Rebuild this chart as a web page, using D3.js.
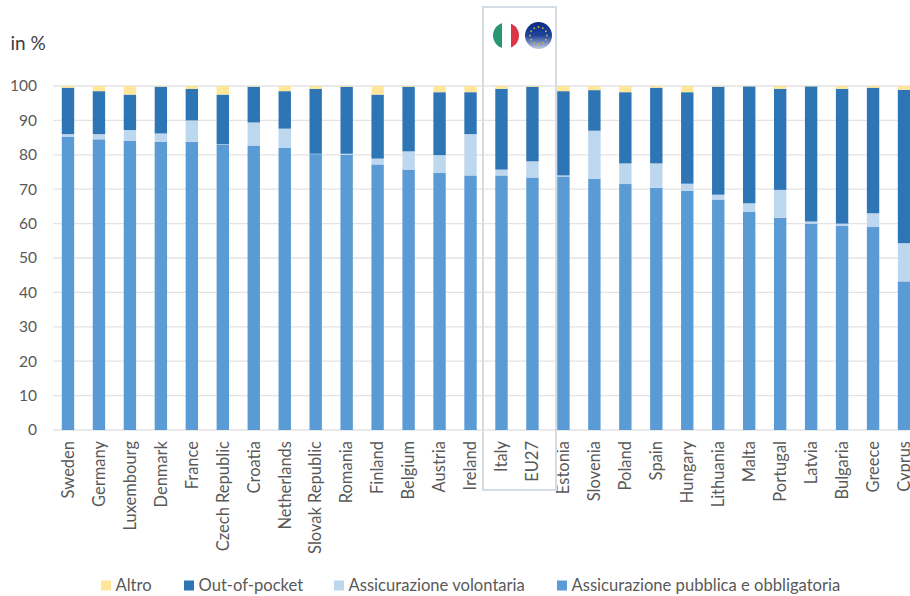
<!DOCTYPE html>
<html lang="en">
<head>
    <meta charset="UTF-8">
    <title>Spesa sanitaria per fonte di finanziamento</title>
    <script src="https://d3js.org/d3.v7.min.js"></script>
    <style>
        body { margin: 0; background: #fff; }
        svg { display: block; }
        text { font-family: Lato, "Open Sans", sans-serif; fill: #595959; }
    </style>
</head>
<body>
    <svg id="chart" width="910" height="596"></svg>
    <script>
        const countries = ["Sweden", "Germany", "Luxembourg", "Denmark", "France", "Czech Republic", "Croatia",
            "Netherlands", "Slovak Republic", "Romania", "Finland", "Belgium", "Austria", "Ireland", "Italy", "EU27",
            "Estonia", "Slovenia", "Poland", "Spain", "Hungary", "Lithuania", "Malta", "Portugal", "Latvia",
            "Bulgaria", "Greece", "Cyprus"];

        const pubblica = [85.3, 84.5, 84.1, 83.8, 83.8, 83.0, 82.7, 82.0, 80.2, 80.0, 77.2, 75.7, 74.7, 74.0,
            74.0, 73.4, 73.7, 73.0, 71.5, 70.4, 69.5, 67.0, 63.5, 61.7, 60.0, 59.3, 59.0, 43.2];
        const volontaria = [0.7, 1.5, 3.1, 2.4, 6.2, 0.1, 6.7, 5.6, 0.1, 0.3, 1.7, 5.3, 5.2, 12.0,
            1.7, 4.7, 0.3, 14.0, 6.0, 7.1, 2.1, 1.4, 2.4, 8.1, 0.6, 0.7, 4.0, 11.1];
        const outOfPocket = [13.5, 12.5, 10.3, 13.6, 9.2, 14.4, 10.4, 10.9, 18.9, 19.5, 18.6, 18.8, 18.3, 12.2,
            23.5, 21.7, 24.5, 11.8, 20.7, 22.0, 26.6, 31.4, 34.0, 29.4, 39.3, 39.2, 36.5, 44.6];
        const altro = [0.5, 1.5, 2.5, 0.2, 0.8, 2.5, 0.2, 1.5, 0.8, 0.2, 2.5, 0.2, 1.8, 1.8,
            0.8, 0.2, 1.5, 1.2, 1.8, 0.5, 1.8, 0.2, 0.1, 0.8, 0.1, 0.8, 0.5, 1.1];

        const yTicks = [0, 10, 20, 30, 40, 50, 60, 70, 80, 90, 100];
        const seriesKeys = ["pubblica", "volontaria", "outOfPocket", "altro"];
        const seriesColors = { pubblica: "#5b9bd5", volontaria: "#bdd7ee", outOfPocket: "#2e75b6", altro: "#ffe699" };

        const legendLabels = ["Altro", "Out-of-pocket", "Assicurazione volontaria", "Assicurazione pubblica e obbligatoria"];
        const legendKeys = ["altro", "outOfPocket", "volontaria", "pubblica"];

        const rows = countries.map((c, i) => ({
            country: c,
            pubblica: pubblica[i],
            volontaria: volontaria[i],
            outOfPocket: outOfPocket[i],
            altro: altro[i]
        }));

        const svg = d3.select("#chart");

        const x = d3.scaleBand().domain(countries).range([52.5, 919.5]).paddingInner(0.6).paddingOuter(0.3);
        const y = d3.scaleLinear().domain([0, 100]).range([430, 86]);

        // gridlines
        svg.append("g").selectAll("line")
            .data(yTicks)
            .enter()
            .append("line")
            .attr("x1", 53)
            .attr("x2", 910)
            .attr("y1", d => y(d))
            .attr("y2", d => y(d))
            .attr("stroke", "#e3e3e3")
            .attr("stroke-width", 1.3);

        // stacked bars
        const stack = d3.stack().keys(seriesKeys)(rows);
        svg.append("g").selectAll("g")
            .data(stack)
            .enter()
            .append("g")
            .attr("fill", d => seriesColors[d.key])
            .selectAll("rect")
            .data(d => d)
            .enter()
            .append("rect")
            .attr("x", d => x(d.data.country))
            .attr("width", x.bandwidth())
            .attr("y", d => y(d[1]))
            .attr("height", d => y(d[0]) - y(d[1]));

        // y axis
        const yAxis = d3.axisLeft(y).tickValues(yTicks).tickSize(0).tickPadding(0);
        const yG = svg.append("g").attr("transform", "translate(37,0)").call(yAxis);
        yG.select(".domain").remove();
        yG.selectAll("text").attr("font-size", 15.5).attr("font-family", "Lato").attr("x", 0);

        // x axis, rotated labels
        const xAxis = d3.axisBottom(x).tickSize(0);
        const xG = svg.append("g").attr("transform", "translate(0,430)").call(xAxis);
        xG.select(".domain").remove();
        xG.selectAll("text")
            .attr("font-size", 16.5)
            .attr("font-family", "Lato")
            .attr("text-anchor", "end")
            .attr("dy", "0.35em")
            .attr("y", 0)
            .attr("x", 0)
            .attr("transform", "rotate(-90) translate(-11,0)");

        svg.append("text").attr("x", 10.5).attr("y", 50).attr("font-size", 19).style("fill", "#404040").text("in %");

        // highlight box round Italy and EU27
        svg.append("rect")
            .attr("x", 483)
            .attr("y", 7)
            .attr("width", 73)
            .attr("height", 483)
            .attr("fill", "none")
            .attr("stroke", "#d6dce4")
            .attr("stroke-width", 2);

        // flags
        const defs = svg.append("defs");
        defs.append("clipPath").attr("id", "itClip")
            .append("circle").attr("cx", 506).attr("cy", 35.5).attr("r", 13);

        const itFlag = svg.append("g").attr("clip-path", "url(#itClip)");
        itFlag.selectAll("rect")
            .data(["#2b9474", "#ffffff", "#dc3545"])
            .enter()
            .append("rect")
            .attr("x", (d, i) => 493 + i * 9)
            .attr("y", 22)
            .attr("width", 9)
            .attr("height", 27)
            .attr("fill", d => d);

        const euGrad = defs.append("linearGradient").attr("id", "euGrad")
            .attr("x1", 0).attr("y1", 0).attr("x2", 0).attr("y2", 1);
        euGrad.append("stop").attr("offset", "0%").attr("stop-color", "#0b2a86");
        euGrad.append("stop").attr("offset", "50%").attr("stop-color", "#1f439a");
        euGrad.append("stop").attr("offset", "100%").attr("stop-color", "#c5cde2");

        svg.append("circle")
            .attr("cx", 538.5).attr("cy", 35.5).attr("r", 13.5)
            .attr("fill", "url(#euGrad)");

        svg.append("g").selectAll("circle")
            .data(d3.range(12))
            .enter()
            .append("circle")
            .attr("cx", d => 538.5 + 8.5 * Math.cos(d * Math.PI / 6))
            .attr("cy", d => 35.5 + 8.5 * Math.sin(d * Math.PI / 6))
            .attr("r", 0.9)
            .attr("fill", "#c9b54a");

        // legend
        const legendX = [101, 184, 334, 557];
        const legend = svg.append("g").selectAll("g")
            .data(legendLabels)
            .enter()
            .append("g")
            .attr("transform", (d, i) => `translate(${legendX[i]},580.5)`);
        legend.append("rect")
            .attr("width", 10)
            .attr("height", 10)
            .attr("fill", (d, i) => seriesColors[legendKeys[i]]);
        legend.append("text")
            .attr("x", 14.5)
            .attr("y", 10)
            .attr("font-size", 16.6)
            .text(d => d);
    </script>
</body>
</html>
